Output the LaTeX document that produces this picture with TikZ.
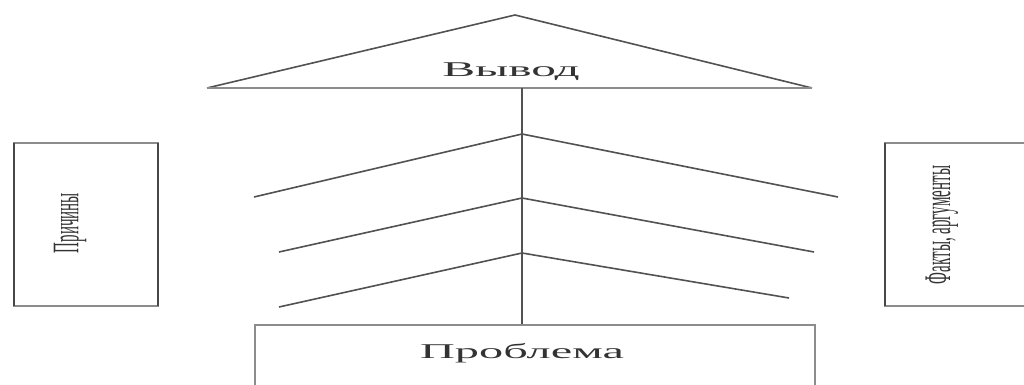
\documentclass[tikz,border=0pt]{standalone}
\usepackage{fontspec}
\setmainfont{Liberation Serif}
\begin{document}
\begin{tikzpicture}[x=1pt,y=-1pt,
  ln/.style={draw=black!68, line width=1.6pt},
  lnlight/.style={draw=black!45, line width=1.3pt},
  lnside/.style={draw=black!72, line width=2.2pt},
  htext/.style={text=black!80, font=\fontsize{21}{21}\selectfont, inner sep=0pt},
  vtext/.style={text=black!80, font=\fontsize{15}{15}\selectfont, inner sep=0pt, rotate=90}]
\useasboundingbox (0,0) rectangle (1024,385);
\clip (0,0) rectangle (1024,385);
% conclusion triangle
\coordinate (apex) at (515,15);
\coordinate (bl) at (207,88);
\coordinate (br) at (812,88);
\draw[ln] (bl) -- (apex) -- (br);
\draw[lnlight] (bl) -- (br);
\node[htext, anchor=base] (vyvod) at (511,77) {\scalebox{2.35}[1]{Вывод}};
% spine
\coordinate (s0) at (522,88);
\coordinate (s1) at (522,134);
\coordinate (s2) at (522,198);
\coordinate (s3) at (522,253);
\coordinate (s4) at (522,325);
\draw[ln] (s0) -- (s4);
% chevrons
\coordinate (l1) at (254,197);
\coordinate (r1) at (838,197);
\coordinate (l2) at (279,252);
\coordinate (r2) at (814,252);
\coordinate (l3) at (279,307);
\coordinate (r3) at (789,298);
\draw[ln] (l1) -- (s1) -- (r1);
\draw[ln] (l2) -- (s2) -- (r2);
\draw[ln] (l3) -- (s3) -- (r3);
% problem box
\draw[lnlight] (255,395) -- (255,325) -- (815,325) -- (815,395);
\node[htext, anchor=base] (problema) at (522,358) {\scalebox{2.3}[1]{Проблема}};
% causes box
\draw[lnlight] (14,143) rectangle (158,306);
\draw[lnside] (14,143) -- (14,306);
\draw[lnside] (158,143) -- (158,306);
\node[vtext] (prichiny) at (70,223) {\scalebox{1}[2.5]{Причины}};
% facts box
\draw[lnlight] (1030,143) -- (885,143) -- (885,306) -- (1030,306);
\draw[lnside] (885,143) -- (885,306);
\node[vtext] (fakty) at (942,225) {\scalebox{1}[2.5]{Факты, аргументы}};
\end{tikzpicture}
\end{document}
